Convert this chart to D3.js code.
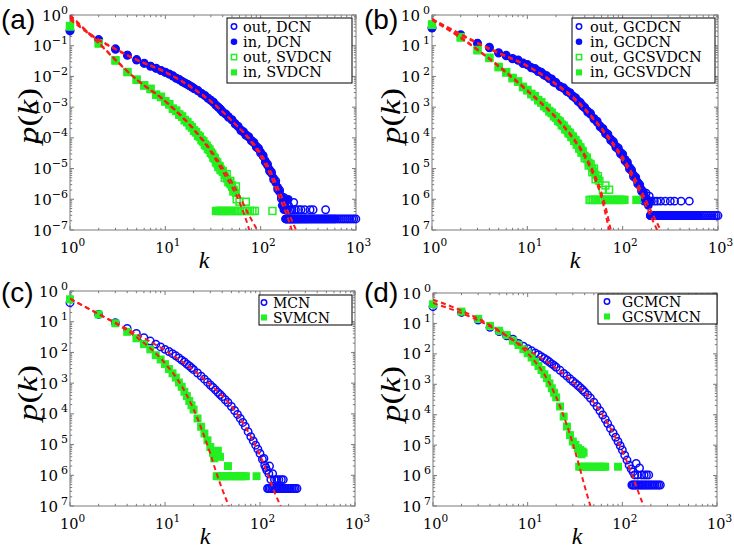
<!DOCTYPE html>
<html>
<head>
<meta charset="utf-8">
<script src="https://cdnjs.cloudflare.com/ajax/libs/d3/7.8.5/d3.min.js"></script>
<style>
  body { margin: 0; background: #fff; }
  svg { display: block; }
  text { font-family: "DejaVu Serif", "Liberation Serif", serif; fill: #000; }
</style>
</head>
<body>
<div id="container"></div>
<script>
// ---- data (log10 p(k)) ----
// degree grid for the blue (full network) series
const kBlue = [1,2,3,4,5,6,7,8,9,10,11,12,13,14,15,16,17,18,19,20,22,24,26,28,30,32,34,36,38,40,
  43,46,50,54,58,62,66,70,75,80,85,90,95,100,106,112,118,124,130,137,144,151,158,165,172,180];
// degree grid for the green series of (a),(b)
const kGreenAB = [1,2,3,4,5,6,7,8,9,10,11,12,13,14,15,16,17,18,19,20,21,22,23,24,25,26,27,28,29,30,
  31,32,33,34,35,36,37,38,40,42,44,46,48,50,52,55];
// degree grid for the green series of (c),(d)
const kGreenCD = [1,2,3,4,5,6,7,8,9,10,11,12,13,14,15,16,17,18,19,20,22,24,26,28,30,32,34,36,38];

// (a)
const inDCN = [-0.50,-0.82,-1.12,-1.30,-1.47,-1.58,-1.66,-1.74,-1.80,-1.86,-1.93,-1.99,-2.05,-2.11,-2.16,-2.21,-2.26,-2.30,-2.35,-2.39,
  -2.47,-2.55,-2.63,-2.70,-2.77,-2.85,-2.93,-3.00,-3.08,-3.15,-3.23,-3.31,-3.42,-3.53,-3.64,-3.74,-3.82,-3.89,-3.98,-4.08,
  -4.17,-4.27,-4.36,-4.46,-4.60,-4.75,-4.90,-5.03,-5.16,-5.31,-5.46,-5.61,-5.76,-5.90,-6.05,-6.20];
const outDCN = [-0.52,-0.80,-1.10,-1.31,-1.45,-1.57,-1.67,-1.73,-1.81,-1.87,-1.92,-1.98,-2.06,-2.10,-2.17,-2.22,-2.25,-2.31,-2.34,-2.40,
  -2.46,-2.56,-2.62,-2.71,-2.78,-2.84,-2.94,-3.01,-3.07,-3.16,-3.22,-3.33,-3.41,-3.55,-3.62,-3.76,-3.80,-3.92,-3.96,-4.10,
  -4.15,-4.30,-4.34,-4.50,-4.57,-4.79,-4.86,-5.08,-5.12,-5.36,-5.40,-5.68,-5.70,-5.98,-5.95,-6.30];
const floorKDCN = [183,188,194,200,206,213,220,228,236,245,254,264,275,286,298,311,325,340,356,373,391,410,430,451,473,
  497,522,548,576,605,636,668,702,738,776,816,858,902,948,996];
const floorDCN = -6.64;
const extraInDCN = [[168,-6.2],[175,-6.34],[185,-6.34],[195,-6.0]];
const extraOutDCN = [[176,-5.95],[182,-6.34],[186,-6.05],[190,-6.34],[196,-6.2],[204,-6.34],[212,-6.34],[222,-6.1],
  [232,-6.34],[250,-6.34],[265,-6.34],[290,-6.34],[330,-6.34],[355,-6.34],[480,-6.34]];
const inSVDCN = [-0.38,-0.92,-1.49,-1.85,-2.12,-2.28,-2.42,-2.59,-2.68,-2.80,-2.92,-3.04,-3.13,-3.23,-3.32,-3.41,-3.50,-3.58,-3.67,-3.75,
  -3.83,-3.91,-3.98,-4.06,-4.13,-4.20,-4.27,-4.33,-4.40,-4.46,-4.54,-4.61,-4.69,-4.76,-4.84,-4.90,-4.95,-5.01,
  -5.11,-5.22,-5.33,-5.42,-5.51,-5.60,-5.68,-5.80];
const outSVDCN = [-0.36,-0.93,-1.47,-1.86,-2.10,-2.30,-2.40,-2.60,-2.66,-2.82,-2.90,-3.06,-3.11,-3.25,-3.30,-3.43,-3.48,-3.60,-3.65,-3.77,
  -3.81,-3.93,-3.96,-4.08,-4.11,-4.23,-4.25,-4.36,-4.38,-4.49,-4.52,-4.65,-4.66,-4.80,-4.80,-4.95,-4.92,-5.05,
  -5.08,-5.30,-5.18,-5.45,-5.40,-5.55,-5.75,-5.58];
const floorKSVDCN = [34,36,38,40,42,44,47,50,53,56,60,64,68,72,77,82,87,133];
const floorSVDCN = -6.38;
const extraOutSVDCN = [[52,-5.72],[56,-6.0],[60,-6.08],[70,-6.08]];

// (b)
const inGCDCN = [-0.43,-0.66,-0.91,-1.07,-1.22,-1.33,-1.41,-1.48,-1.56,-1.63,-1.70,-1.76,-1.82,-1.88,-1.94,-2.00,-2.05,-2.10,-2.17,-2.22,
  -2.31,-2.39,-2.47,-2.55,-2.63,-2.71,-2.79,-2.87,-2.95,-3.03,-3.13,-3.23,-3.36,-3.49,-3.61,-3.72,-3.82,-3.92,-4.04,-4.16,
  -4.27,-4.37,-4.47,-4.57,-4.70,-4.83,-4.96,-5.08,-5.20,-5.32,-5.44,-5.56,-5.68,-5.80,-5.92,-6.05];
const outGCDCN = [-0.41,-0.64,-0.93,-1.05,-1.24,-1.31,-1.43,-1.46,-1.58,-1.61,-1.72,-1.74,-1.84,-1.86,-1.96,-1.98,-2.07,-2.08,-2.19,-2.20,
  -2.33,-2.37,-2.49,-2.53,-2.65,-2.69,-2.81,-2.85,-2.97,-3.01,-3.16,-3.20,-3.39,-3.46,-3.64,-3.69,-3.86,-3.88,-4.08,-4.12,
  -4.31,-4.33,-4.52,-4.53,-4.75,-4.79,-5.01,-5.04,-5.26,-5.28,-5.50,-5.52,-5.74,-5.76,-5.98,-6.00];
const floorKGCDCN = [195,200,206,212,219,226,234,242,251,260,270,281,292,304,317,330,344,359,375,392,410,429,449,470,492,
  515,540,566,593,622,652,684,717,752,789,828,869,912,957,1000];
const floorGCDCN = -6.53;
const extraInGCDCN = [[175,-6.06],[186,-6.2],[192,-6.06]];
const extraOutGCDCN = [[168,-6.06],[176,-5.8],[184,-6.06],[190,-5.9],[200,-6.06],[215,-6.06],[230,-6.06],[250,-6.06],
  [280,-6.06],[316,-6.06],[350,-6.06],[410,-6.06],[500,-6.06]];
const inGCSVDCN = [-0.30,-0.74,-1.13,-1.41,-1.68,-1.88,-2.04,-2.18,-2.33,-2.46,-2.56,-2.66,-2.76,-2.86,-2.95,-3.04,-3.12,-3.20,-3.28,-3.35,
  -3.42,-3.49,-3.56,-3.62,-3.69,-3.75,-3.81,-3.87,-3.93,-3.99,-4.05,-4.11,-4.17,-4.23,-4.29,-4.35,-4.41,-4.47,
  -4.58,-4.69,-4.80,-4.90,-5.00,-5.10,-5.20,-5.34];
const outGCSVDCN = [-0.32,-0.72,-1.15,-1.39,-1.70,-1.86,-2.06,-2.16,-2.35,-2.44,-2.58,-2.64,-2.78,-2.84,-2.97,-3.02,-3.14,-3.18,-3.30,-3.33,
  -3.45,-3.47,-3.59,-3.60,-3.72,-3.73,-3.85,-3.84,-3.97,-3.96,-4.10,-4.08,-4.22,-4.20,-4.35,-4.31,-4.48,-4.43,
  -4.66,-4.64,-4.90,-4.85,-5.12,-5.00,-5.35,-5.25];
const floorKGCSVDCN = [45,47,49,51,53,56,59,62,65,68,72,76,80,84,88,93,98,104,140];
const floorGCSVDCN = -6.02;
const extraOutGCSVDCN = [[57,-5.4],[62,-5.69],[66,-5.55],[72,-5.69]];

// (c)
const MCN = [-0.38,-0.76,-1.03,-1.22,-1.38,-1.52,-1.63,-1.73,-1.82,-1.90,-1.97,-2.04,-2.11,-2.18,-2.25,-2.31,-2.38,-2.44,-2.50,-2.56,
  -2.67,-2.77,-2.87,-2.97,-3.06,-3.14,-3.22,-3.30,-3.37,-3.44,-3.54,-3.63,-3.76,-3.89,-4.02,-4.15,-4.28,-4.41,-4.58,-4.74,
  -4.88,-5.02,-5.15,-5.29,-5.48,-5.67,-5.84,-5.95];
const floorKMCN = [120,124,128,133,138,143,148,154,160,166,172,179,186,193,201,209,217,226,235,245];
const floorMCN = -6.43;
const extraMCN = [[110,-5.45],[115,-5.75],[126,-5.7],[130,-6.14],[136,-5.95],[142,-6.14],[150,-6.14],[158,-6.14],[168,-6.14],[176,-6.14]];
const SVMCN = [-0.27,-0.76,-1.05,-1.33,-1.54,-1.73,-1.90,-2.09,-2.23,-2.38,-2.54,-2.68,-2.82,-2.98,-3.12,-3.28,-3.42,-3.58,-3.72,-3.86,
  -4.15,-4.42,-4.64,-4.86,-5.08,-5.27,-5.32,-5.38,-5.40];
const floorKSVMCN = [35,37,39,41,43,45,48,51,54,57,60,63,67,71,92];
const floorSVMCN = -6.03;
const extraSVMCN = [[33,-5.45],[36,-5.2],[46,-5.7]];

// (d)
const GCMCN = [-0.45,-0.64,-0.89,-1.13,-1.27,-1.41,-1.52,-1.66,-1.75,-1.83,-1.90,-1.97,-2.03,-2.09,-2.15,-2.21,-2.27,-2.33,-2.38,-2.44,
  -2.54,-2.64,-2.73,-2.82,-2.90,-2.97,-3.04,-3.11,-3.18,-3.25,-3.35,-3.45,-3.59,-3.73,-3.87,-4.01,-4.15,-4.29,-4.45,-4.60,
  -4.74,-4.88,-5.02,-5.16,-5.33,-5.49,-5.66,-5.78,-5.88];
const floorKGCMCN = [126,130,134,139,144,149,155,161,167,174,181,188,196,204,213,222,232,242,252];
const floorGCMCN = -6.31;
const extraGCMCN = [[135,-5.98],[140,-5.6],[145,-5.98],[152,-5.75],[160,-5.98],[170,-5.98],[180,-5.98],[190,-5.98]];
const GCSVMCN = [-0.37,-0.61,-0.85,-1.08,-1.24,-1.38,-1.57,-1.71,-1.85,-1.98,-2.12,-2.26,-2.40,-2.53,-2.67,-2.80,-2.97,-3.13,-3.28,-3.43,
  -3.73,-4.06,-4.39,-4.67,-4.88,-4.99,-5.10,-5.16,-5.21];
const floorKGCSVMCN = [35,37,39,41,43,45,48,51,54,57,60,63,66,90];
const floorGCSVMCN = -5.71;
const extraGCSVMCN = [[37,-5.3],[39,-5.25]];

// fitted curves (red dashed), [k, log10 p]
const fitA = [
  [[1,0],[2,-0.9],[3,-1.45],[5,-2.1],[10,-2.82],[20,-3.75],[30,-4.45],[40,-5.1],[50,-5.6],[60,-6.1],[70,-6.65],[76,-7]],
  [[1,-0.05],[2,-0.92],[3,-1.47],[5,-2.1],[10,-2.8],[20,-3.72],[30,-4.4],[40,-4.98],[50,-5.45],[60,-5.9],[75,-6.5],[92,-7]],
  [[1,-0.1],[2,-0.8],[3,-1.1],[5,-1.45],[10,-1.85],[20,-2.4],[30,-2.8],[50,-3.45],[80,-4.15],[100,-4.6],[130,-5.3],[160,-6.0],[190,-6.55],[212,-7]],
  [[1,-0.15],[2,-0.82],[3,-1.12],[5,-1.47],[10,-1.87],[20,-2.42],[30,-2.82],[50,-3.45],[80,-4.1],[100,-4.5],[130,-5.15],[160,-5.8],[200,-6.5],[235,-7]]
];
const fitB = [
  [[1,-0.13],[2,-0.72],[3,-1.12],[5,-1.65],[10,-2.45],[20,-3.33],[30,-3.98],[40,-4.55],[50,-5.15],[60,-5.8],[68,-6.4],[75,-7]],
  [[1,-0.16],[2,-0.75],[3,-1.14],[5,-1.68],[10,-2.48],[20,-3.36],[30,-4.02],[40,-4.62],[50,-5.25],[60,-5.95],[72,-7]],
  [[1,-0.13],[2,-0.62],[3,-0.9],[5,-1.22],[10,-1.65],[20,-2.24],[30,-2.66],[50,-3.38],[80,-4.18],[100,-4.62],[150,-5.6],[200,-6.4],[250,-7]],
  [[1,-0.16],[2,-0.65],[3,-0.93],[5,-1.25],[10,-1.67],[20,-2.27],[30,-2.7],[50,-3.42],[80,-4.25],[100,-4.72],[150,-5.75],[200,-6.6],[230,-7]]
];
const fitC = [
  [[1,-0.25],[2,-0.75],[3,-1.05],[5,-1.5],[10,-2.35],[15,-3.1],[20,-3.85],[25,-4.6],[30,-5.3],[35,-5.95],[40,-6.45],[47,-7]],
  [[1,-0.25],[2,-0.75],[3,-1.03],[5,-1.4],[10,-1.93],[20,-2.58],[30,-3.05],[50,-3.75],[70,-4.42],[100,-5.35],[120,-5.95],[140,-6.5],[165,-7]]
];
const fitD = [
  [[1,-0.22],[2,-0.58],[3,-0.84],[5,-1.24],[10,-1.98],[15,-2.68],[20,-3.42],[25,-4.2],[30,-4.95],[35,-5.68],[40,-6.35],[46,-7]],
  [[1,-0.33],[2,-0.66],[3,-0.9],[5,-1.26],[10,-1.86],[20,-2.47],[30,-2.92],[50,-3.6],[70,-4.28],[100,-5.2],[130,-6.05],[150,-6.6],[168,-7]]
];

// tick labels (superscripts of 10); panels b-d print them without minus sign in the original
const xTickSup = ["0","1","2","3"];
const yTickSupA = ["0","\u22121","\u22122","\u22123","\u22124","\u22125","\u22126","\u22127"];
const yTickSupBCD = ["0","1","2","3","4","5","6","7"];

let w = 734;
let h = 551;
let blue = "#0a0aff";
let green = "#22f022";
let red = "#ff1a1a";
let frameColor = "#7a7a7a";

let viz = d3.select("#container")
  .append("svg")
    .attr("width", w)
    .attr("height", h)
;

// helpers that turn the arrays into {k, p}
function gridPts(ks, lps){ return lps.map((v, i) => ({k: ks[i], p: Math.pow(10, v)})); }
function floorPts(ks, level){ return ks.map(k => ({k: k, p: Math.pow(10, level)})); }
function pairPts(arr){ return arr.map(d => ({k: d[0], p: Math.pow(10, d[1])})); }

let panels = [
  { label: "(a)", labelPos: [1, 29], box: [70, 15, 286, 215], ySup: yTickSupA, xLab: 204, yLab: [29, 116],
    series: [
      { name: "out, DCN", color: blue, shape: "circle", filled: false,
        data: gridPts(kBlue, outDCN).concat(floorPts(floorKDCN, floorDCN), pairPts(extraOutDCN)) },
      { name: "in, DCN", color: blue, shape: "circle", filled: true,
        data: gridPts(kBlue, inDCN).concat(floorPts(floorKDCN.slice(0, 30), floorDCN), pairPts(extraInDCN)) },
      { name: "out, SVDCN", color: green, shape: "square", filled: false,
        data: gridPts(kGreenAB, outSVDCN).concat(floorPts(floorKSVDCN, floorSVDCN), pairPts(extraOutSVDCN)) },
      { name: "in, SVDCN", color: green, shape: "square", filled: true,
        data: gridPts(kGreenAB, inSVDCN).concat(floorPts(floorKSVDCN.slice(0, 8), floorSVDCN)) }
    ],
    drawOrder: [1, 0, 3, 2],
    fits: fitA,
    legend: { box: [227, 18, 125, 65], y0: 26.5, dy: 15.3, mx: 234, tx: 243, fs: 14.5 } },
  { label: "(b)", labelPos: [364, 29], box: [432, 15, 286, 215], ySup: yTickSupBCD, xLab: 575, yLab: [392, 116],
    series: [
      { name: "out, GCDCN", color: blue, shape: "circle", filled: false,
        data: gridPts(kBlue, outGCDCN).concat(floorPts(floorKGCDCN, floorGCDCN), pairPts(extraOutGCDCN)) },
      { name: "in, GCDCN", color: blue, shape: "circle", filled: true,
        data: gridPts(kBlue, inGCDCN).concat(floorPts(floorKGCDCN.slice(0, 30), floorGCDCN), pairPts(extraInGCDCN)) },
      { name: "out, GCSVDCN", color: green, shape: "square", filled: false,
        data: gridPts(kGreenAB, outGCSVDCN).concat(floorPts(floorKGCSVDCN, floorGCSVDCN), pairPts(extraOutGCSVDCN)) },
      { name: "in, GCSVDCN", color: green, shape: "square", filled: true,
        data: gridPts(kGreenAB, inGCSVDCN).concat(floorPts(floorKGCSVDCN.slice(10), floorGCSVDCN)) }
    ],
    drawOrder: [1, 0, 3, 2],
    fits: fitB,
    legend: { box: [572, 18, 143, 65], y0: 26.5, dy: 15.3, mx: 579, tx: 590, fs: 14.5 } },
  { label: "(c)", labelPos: [1, 302], box: [70, 291, 285, 215], ySup: yTickSupBCD, xLab: 205, yLab: [29, 393],
    series: [
      { name: "MCN", color: blue, shape: "circle", filled: false,
        data: gridPts(kBlue, MCN).concat(floorPts(floorKMCN, floorMCN), pairPts(extraMCN)) },
      { name: "SVMCN", color: green, shape: "square", filled: true,
        data: gridPts(kGreenCD, SVMCN).concat(floorPts(floorKSVMCN, floorSVMCN), pairPts(extraSVMCN)) }
    ],
    drawOrder: [0, 1],
    fits: fitC,
    legend: { box: [259, 295, 93, 30], y0: 302.5, dy: 15, mx: 264, tx: 273, fs: 14 } },
  { label: "(d)", labelPos: [364, 302], box: [433, 293, 284, 213], ySup: yTickSupBCD, xLab: 577, yLab: [392, 394],
    series: [
      { name: "GCMCN", color: blue, shape: "circle", filled: false,
        data: gridPts(kBlue, GCMCN).concat(floorPts(floorKGCMCN, floorGCMCN), pairPts(extraGCMCN)) },
      { name: "GCSVMCN", color: green, shape: "square", filled: true,
        data: gridPts(kGreenCD, GCSVMCN).concat(floorPts(floorKGCSVMCN, floorGCSVMCN), pairPts(extraGCSVMCN)) }
    ],
    drawOrder: [0, 1],
    fits: fitD,
    legend: { box: [598, 294, 119, 30], y0: 301.5, dy: 15, mx: 607, tx: 622, fs: 14 } }
];

panels.forEach((p, i) => drawPanel(p, i));

function drawMarkers(g, data, s, xScale, yScale, size){
  if (s.shape === "circle") {
    g.selectAll(null).data(data).enter().append("circle")
      .attr("cx", d => xScale(d.k))
      .attr("cy", d => yScale(d.p))
      .attr("r", s.filled ? size : size - 0.6)
      .attr("fill", s.filled ? s.color : "none")
      .attr("stroke", s.color)
      .attr("stroke-width", s.filled ? 0 : 1.5);
  } else {
    let a = s.filled ? size * 1.85 : size * 1.6;
    g.selectAll(null).data(data).enter().append("rect")
      .attr("x", d => xScale(d.k) - a / 2)
      .attr("y", d => yScale(d.p) - a / 2)
      .attr("width", a)
      .attr("height", a)
      .attr("fill", s.filled ? s.color : "none")
      .attr("stroke", s.color)
      .attr("stroke-width", s.filled ? 0 : 1.5);
  }
}

function drawPanel(p, idx){
  let [x0, y0, pw, ph] = p.box;
  let xScale = d3.scaleLog().domain([1, 1000]).range([x0, x0 + pw]);
  let yScale = d3.scaleLog().domain([1e-7, 1]).range([y0 + ph, y0]);
  let g = viz.append("g").attr("class", "panel");

  // frame + ticks (box on, ticks inward, MATLAB style)
  g.append("rect").attr("x", x0).attr("y", y0).attr("width", pw).attr("height", ph)
    .attr("fill", "none").attr("stroke", frameColor).attr("stroke-width", 1);

  let xMajor = [1, 10, 100, 1000];
  let xMinor = [];
  [1, 10, 100].forEach(d => { for (let m = 2; m <= 9; m++) xMinor.push(d * m); });
  let yMajor = d3.range(-7, 1).map(e => Math.pow(10, e));
  let yMinor = [];
  d3.range(-7, 0).forEach(e => { for (let m = 2; m <= 9; m++) yMinor.push(m * Math.pow(10, e)); });

  let ticks = g.append("g").attr("stroke", frameColor).attr("stroke-width", 1);
  function xTick(v, len){
    let x = xScale(v);
    ticks.append("line").attr("x1", x).attr("x2", x).attr("y1", y0 + ph).attr("y2", y0 + ph - len);
    ticks.append("line").attr("x1", x).attr("x2", x).attr("y1", y0).attr("y2", y0 + len);
  }
  function yTick(v, len){
    let y = yScale(v);
    ticks.append("line").attr("x1", x0).attr("x2", x0 + len).attr("y1", y).attr("y2", y);
    ticks.append("line").attr("x1", x0 + pw).attr("x2", x0 + pw - len).attr("y1", y).attr("y2", y);
  }
  xMajor.forEach(v => xTick(v, 4));
  xMinor.forEach(v => xTick(v, 2.2));
  yMajor.forEach(v => yTick(v, 4));
  yMinor.forEach(v => yTick(v, 2.2));

  // tick labels
  xMajor.forEach((v, i) => {
    let t = g.append("text").attr("x", xScale(v) - 10).attr("y", y0 + ph + 23)
      .attr("font-size", 14.5);
    t.append("tspan").text("10");
    t.append("tspan").attr("dy", -7).attr("font-size", 10.5).text(xTickSup[i]);
  });
  yMajor.forEach((v, i) => {
    let sup = p.ySup[p.ySup.length - 1 - i];
    let t = g.append("text").attr("x", x0 - 2).attr("y", yScale(v) + 5.5)
      .attr("text-anchor", "end").attr("font-size", 15);
    t.append("tspan").text("10");
    t.append("tspan").attr("dx", idx === 0 ? 0 : 3).attr("dy", -7).attr("font-size", 11).text(sup);
  });

  // axis titles
  g.append("text").attr("x", p.xLab).attr("y", y0 + ph + 38)
    .style("font-family", "'Liberation Serif', serif")
    .attr("text-anchor", "middle").attr("font-size", 24).attr("font-style", "italic").text("k");
  let yl = g.append("text")
    .attr("transform", "translate(" + (p.yLab[0] + 8) + "," + p.yLab[1] + ") rotate(-90)")
    .style("font-family", "'Liberation Serif', serif")
    .attr("text-anchor", "middle").attr("font-size", 28)
    .attr("textLength", 56).attr("lengthAdjust", "spacingAndGlyphs");
  yl.append("tspan").attr("font-style", "italic").text("p");
  yl.append("tspan").text("(");
  yl.append("tspan").attr("font-style", "italic").text("k");
  yl.append("tspan").text(")");

  // panel label
  g.append("text").attr("x", p.labelPos[0]).attr("y", p.labelPos[1])
    .style("font-family", "'Liberation Sans', Arial, sans-serif").attr("font-size", 28)
    .text(p.label);

  // data markers
  let marks = g.append("g");
  p.drawOrder.forEach(j => drawMarkers(marks, p.series[j].data, p.series[j], xScale, yScale, 4.3));

  // fitted lines, clipped to the axes box
  let clipId = "clip" + idx;
  viz.append("clipPath").attr("id", clipId).append("rect")
    .attr("x", x0).attr("y", y0).attr("width", pw).attr("height", ph);
  let lineMaker = d3.line()
    .x(d => xScale(d[0]))
    .y(d => yScale(Math.pow(10, d[1])))
    .curve(d3.curveMonotoneX);
  g.append("g").attr("clip-path", "url(#" + clipId + ")")
    .selectAll("path").data(p.fits).enter().append("path")
      .attr("d", lineMaker)
      .attr("fill", "none")
      .attr("stroke", red)
      .attr("stroke-width", 2)
      .attr("stroke-dasharray", "5,3.5");

  // legend
  let L = p.legend;
  let lg = g.append("g");
  lg.append("rect").attr("x", L.box[0]).attr("y", L.box[1]).attr("width", L.box[2]).attr("height", L.box[3])
    .attr("fill", "#fff").attr("stroke", "#000").attr("stroke-width", 1);
  p.series.forEach((s, j) => {
    let cy = L.y0 + j * L.dy;
    let one = [{k: 1, p: 1}];
    drawMarkers(lg, one, s, () => L.mx, () => cy, 3.3);
    lg.append("text").attr("x", L.tx).attr("y", cy + 5).attr("font-size", L.fs).text(s.name);
  });
}
</script>
</body>
</html>
